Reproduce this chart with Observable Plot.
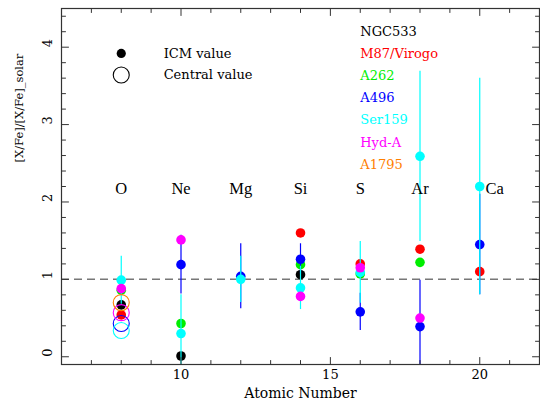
<!DOCTYPE html>
<html><head><meta charset="utf-8">
<script src="https://cdn.jsdelivr.net/npm/d3@7"></script>
<script src="https://cdn.jsdelivr.net/npm/@observablehq/plot@0.6"></script>
<style>body{margin:0;background:#fff} #chart svg{display:block}</style>
</head><body><div id="chart"></div>
<script>
// ---- data ----
const elements = ["O","Ne","Mg","Si","S","Ar","Ca"];
const atomicNumber = [8,10,12,14,16,18,20];
const clusters = ["NGC533","M87/Virogo","A262","A496","Ser159","Hyd-A","A1795"];
const clusterColors = ["#000000","#ff0000","#00ee00","#0000ff","#00ffff","#ff00ff","#ff8000"];
// ICM values (order O, Ne, Mg, Si, S, Ar, Ca); null = not measured
const icmNGC533 = [0.67, 0.01, null, 1.06, null, null, null];
const icmM87    = [0.54, null, null, 1.60, 1.20, 1.39, 1.10];
const icmA262   = [0.86, 0.43, null, 1.19, 1.07, 1.22, null];
const icmA496   = [null, 1.19, 1.04, 1.26, 0.58, 0.39, 1.45];
const icmSer159 = [0.99, 0.30, 1.00, 0.89, 1.09, 2.59, 2.20];
const icmHydA   = [0.88, 1.51, null, 0.78, 1.15, 0.50, null];
const icmA1795  = [null, null, null, null, null, null, null];
// error bars (half-widths)
const errA496   = [null, 0.38, 0.42, 0.20, 0.24, 0.60, 0.65];
const errSer159 = [0.31, 0.50, 0.30, 0.28, 0.40, 1.10, 1.40];
// central values (open circles), oxygen only
const centralO = [null, null, null, 0.43, 0.34, 0.57, 0.70];
// axis ticks
const xTickLabels = [10, 15, 20];
const yTickLabels = [0, 1, 2, 3, 4];

const icm = [icmNGC533, icmM87, icmA262, icmA496, icmSer159, icmHydA, icmA1795];
const errs = [null, null, null, errA496, errSer159, null, null];

const xMinor = d3.range(7, 22).filter(d => !xTickLabels.includes(d));
const yMinor = d3.range(1, 23).map(d => +(d * 0.2).toFixed(1)).filter(d => !yTickLabels.includes(d));

const FONT = "DejaVu Serif";
const tickShape = {draw(ctx, l) { ctx.moveTo(0, 0); ctx.lineTo(0, -l); }};
const axisColor = "#333";
function ticks(data, channel, frameAnchor, rotate, length) {
  return Plot.vector(data, {[channel]: d => d, frameAnchor, rotate, length, anchor: "start",
    shape: tickShape, stroke: axisColor, strokeWidth: 1});
}

const marks = [
  Plot.ruleY([1], {stroke: "#777", strokeWidth: 1.5, strokeDasharray: "8,5"})
];

clusters.forEach((name, i) => {
  const rows = atomicNumber.map((z, j) => ({z, v: icm[i][j], e: errs[i] ? errs[i][j] : null}))
    .filter(r => r.v != null);
  const barRows = rows.filter(r => r.e != null);
  if (barRows.length) marks.push(Plot.ruleX(barRows, {x: "z", y1: r => r.v - r.e, y2: r => r.v + r.e,
    stroke: clusterColors[i], strokeWidth: 1.2, clip: true}));
  marks.push(Plot.dot(rows, {x: "z", y: "v", r: 4.8, fill: clusterColors[i], stroke: null}));
});
const centralRows = clusters.map((c, i) => ({z: atomicNumber[0], v: centralO[i], c: clusterColors[i]}))
  .filter(r => r.v != null);
marks.push(Plot.dot(centralRows, {x: "z", y: "v", r: 8, stroke: "c", strokeWidth: 1.1, fill: "none"}));

// element labels
const labelRows = elements.map((el, i) => ({el, z: atomicNumber[i]}));
marks.push(Plot.text(labelRows.filter(d => d.el !== "Ca"), {x: "z", y: () => 2.17, text: "el",
  fontSize: 16.5, fontFamily: "Liberation Serif", fill: "black"}));
marks.push(Plot.text(labelRows.filter(d => d.el === "Ca"), {x: "z", y: () => 2.17, text: "el", dx: 15,
  fontSize: 16.5, fontFamily: "Liberation Serif", fill: "black"}));

// legend (symbol key)
marks.push(Plot.dot([{x: 8, y: 3.92}], {x: "x", y: "y", r: 4.6, fill: "black"}));
marks.push(Plot.dot([{x: 8, y: 3.64}], {x: "x", y: "y", r: 8, stroke: "black", strokeWidth: 1.1, fill: "none"}));
marks.push(Plot.text(["ICM value", "Central value"], {x: () => 9.42, y: (d, i) => 3.92 - i * 0.28,
  text: d => d, textAnchor: "start", fontSize: 13, fontFamily: FONT, fill: "black"}));
// legend (cluster names)
marks.push(Plot.text(clusters, {x: () => 16, y: (d, i) => 4.2 - i * 0.286, text: d => d,
  fill: (d, i) => clusterColors[i], textAnchor: "start", fontSize: 13, fontFamily: FONT}));

// frame and ticks
marks.push(Plot.frame({stroke: axisColor, strokeWidth: 1.2}));
marks.push(ticks(xTickLabels, "x", "bottom", 0, 7), ticks(xMinor, "x", "bottom", 0, 4));
marks.push(ticks(xTickLabels, "x", "top", 180, 7), ticks(xMinor, "x", "top", 180, 4));
marks.push(ticks(yTickLabels, "y", "left", 90, 7), ticks(yMinor, "y", "left", 90, 4));
marks.push(ticks(yTickLabels, "y", "right", -90, 7), ticks(yMinor, "y", "right", -90, 4));

// tick labels and titles
marks.push(Plot.text(xTickLabels, {x: d => d, frameAnchor: "bottom", dy: 14, text: d => String(d), fontSize: 13, fontFamily: FONT, fill: "black"}));
marks.push(Plot.text(yTickLabels, {y: d => d, frameAnchor: "left", dx: -14, rotate: -90, text: d => String(d), fontSize: 13, fontFamily: FONT, fill: "black"}));
marks.push(Plot.text(["Atomic Number"], {frameAnchor: "bottom", dy: 33, text: d => d, fontSize: 14, fontFamily: FONT, fill: "black"}));
marks.push(Plot.text(["[X/Fe]/[X/Fe]_solar"], {frameAnchor: "left", dx: -42, dy: -24, rotate: -90, text: d => d, fontSize: 11.5, fontFamily: FONT, fill: "black"}));

const chart = Plot.plot({
  width: 540, height: 409,
  marginLeft: 61, marginRight: 1, marginTop: 8, marginBottom: 45,
  x: {domain: [6, 22], axis: null},
  y: {domain: [-0.1, 4.5], axis: null},
  color: {type: "identity"},
  style: {fontFamily: FONT, background: "white", overflow: "visible"},
  marks
});
document.getElementById("chart").appendChild(chart);
</script>
</body></html>
